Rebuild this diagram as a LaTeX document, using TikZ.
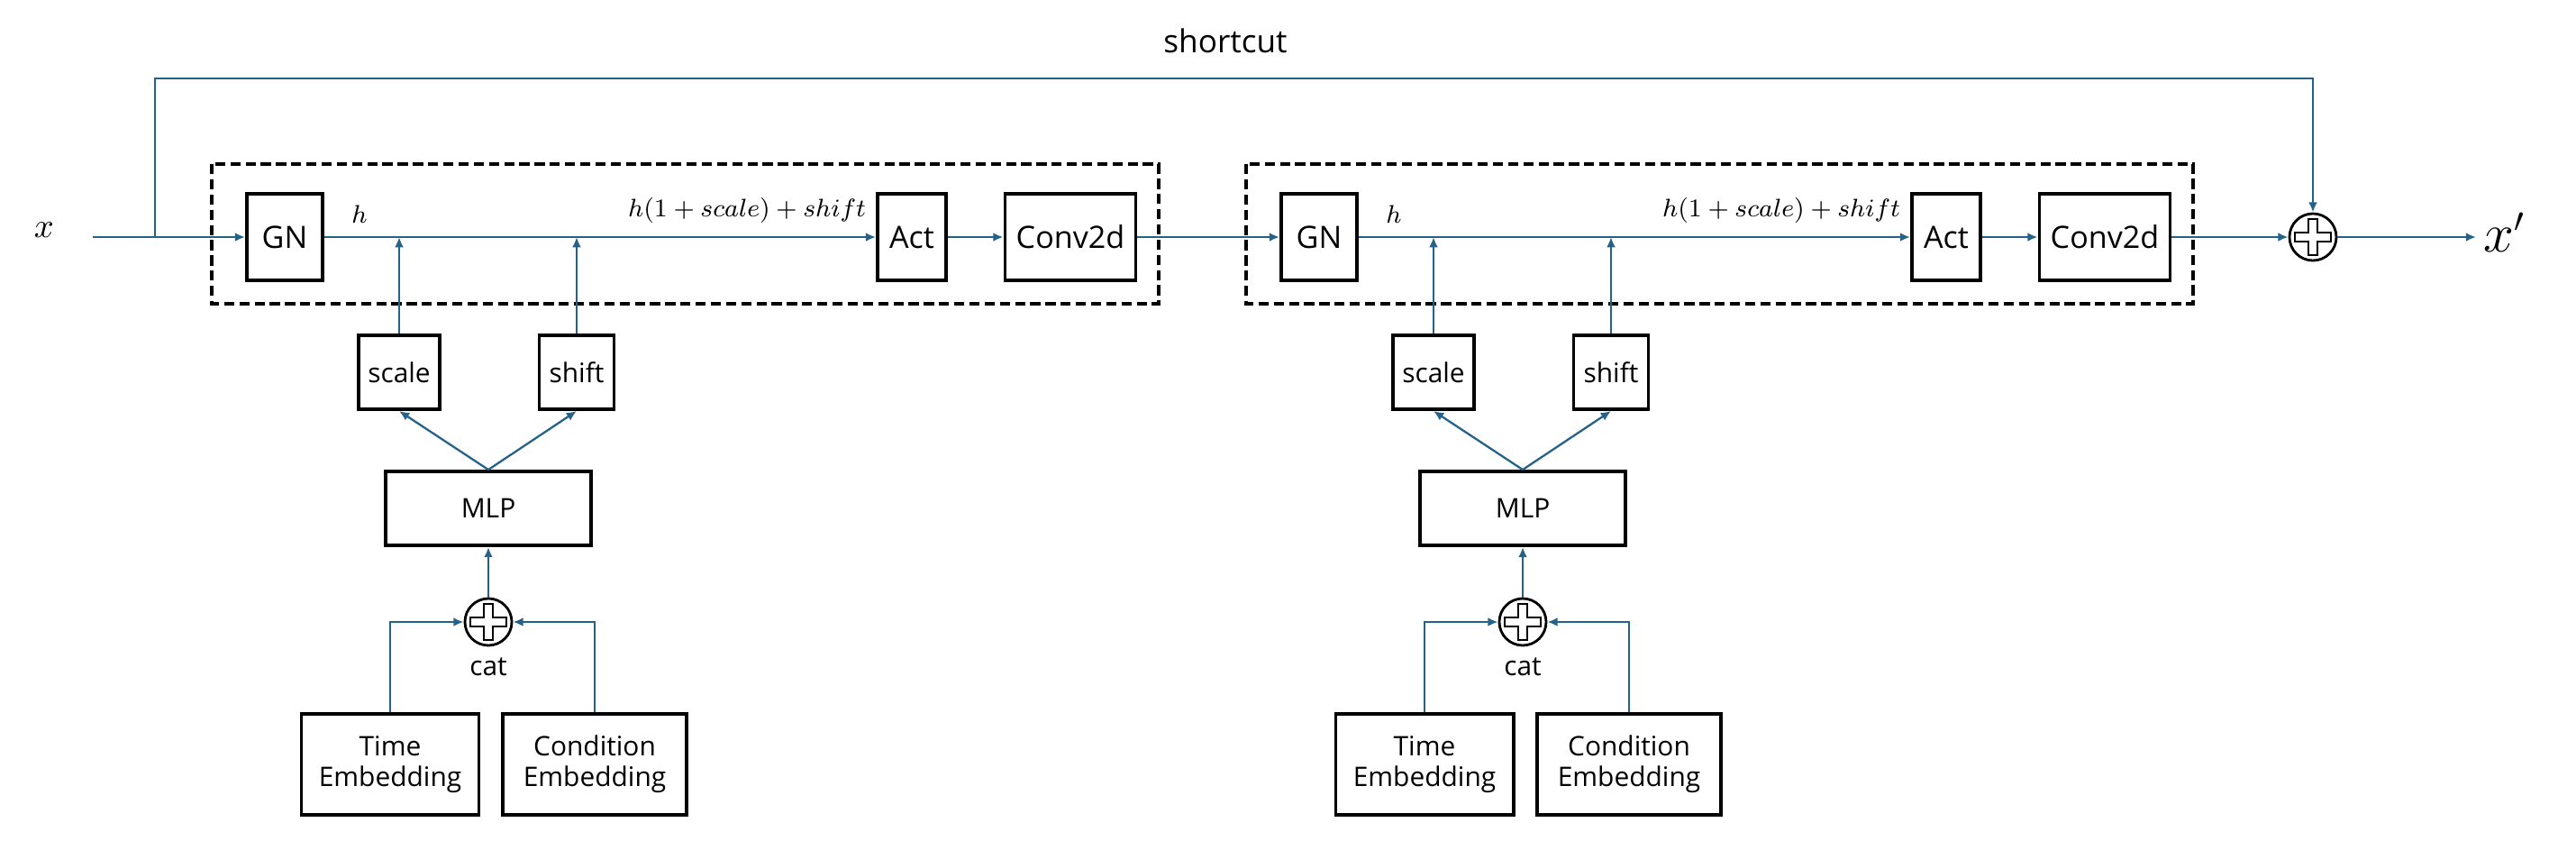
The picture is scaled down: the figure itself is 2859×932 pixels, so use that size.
\documentclass[tikz,border=0pt]{standalone}
\usepackage{fontspec}
\setmainfont{Open Sans}
\usetikzlibrary{arrows.meta,calc}
\definecolor{ln}{RGB}{36,98,138}
\newcommand{\crossat}[1]{\draw[line width=0.75pt,shift={(#1.center)}] (-5,-20) -- (5,-20) -- (5,-5) -- (20,-5) -- (20,5) -- (5,5) -- (5,20) -- (-5,20) -- (-5,5) -- (-20,5) -- (-20,-5) -- (-5,-5) -- cycle;}
\tikzset{
 box/.style={draw=black, line width=1.1pt, inner sep=0pt, font=\fontsize{8.5}{9.6}\selectfont, align=center},
 bigbox/.style={box, font=\fontsize{9.7}{11}\selectfont},
 conn/.style={draw=ln, line width=0.65pt, -{Latex[length=3.2pt,width=2.8pt]}},
 dbox/.style={draw=black, line width=1pt, dash pattern=on 3.2pt off 1.6pt},
 addc/.style={circle, draw=black, line width=0.8pt, minimum size=0.52cm, inner sep=0pt},
 lbl/.style={inner sep=0pt, font=\fontsize{8.5}{10}\selectfont},
}
\begin{document}
\begin{tikzpicture}[x=0.01cm,y=-0.01cm]
\useasboundingbox (0,0) rectangle (2859,932);
\foreach \o/\s in {0/a,1148/b}{
  \draw[dbox] ({\o+235},182) rectangle ({\o+1286},337);
  \node[bigbox, minimum width=0.84cm, minimum height=0.96cm] (GN\s) at ({\o+316},263) {GN};
  \node[bigbox, minimum width=0.76cm, minimum height=0.96cm] (Act\s) at ({\o+1012},263) {Act};
  \node[bigbox, minimum width=1.45cm, minimum height=0.96cm] (Conv\s) at ({\o+1188},263) {Conv2d};
  \node[lbl] (h\s) at ({\o+399},238) {$h$};
  \node[lbl] (f\s) at ({\o+829},233) {$h(1+scale)+shift$};
  \node[box, minimum width=0.90cm, minimum height=0.82cm] (scale\s) at ({\o+443},413) {scale};
  \node[box, minimum width=0.83cm, minimum height=0.82cm] (shift\s) at ({\o+640},413) {shift};
  \node[box, minimum width=2.28cm, minimum height=0.82cm] (MLP\s) at ({\o+542},564) {MLP};
  \node[addc] (cat\s) at ({\o+542},690) {};
  \crossat{cat\s}
  \node[lbl] (catl\s) at ({\o+542},740) {cat};
  \node[box, minimum width=1.97cm, minimum height=1.12cm] (T\s) at ({\o+433},848) {Time\\Embedding};
  \node[box, minimum width=2.04cm, minimum height=1.12cm] (C\s) at ({\o+660},848) {Condition\\Embedding};
  \draw[conn] (T\s.north) |- (cat\s.west);
  \draw[conn] (C\s.north) |- (cat\s.east);
  \draw[conn] (cat\s.north) -- (MLP\s.south);
  \draw[conn] (MLP\s.north) -- (scale\s.south);
  \draw[conn] (MLP\s.north) -- (shift\s.south);
  \draw[conn] (scale\s.north) -- (scale\s.north |- GN\s.east);
  \draw[conn] (shift\s.north) -- (shift\s.north |- GN\s.east);
  \draw[conn] (GN\s.east) -- (Act\s.west);
  \draw[conn] (Act\s.east) -- (Conv\s.west);
}
\node[addc] (out) at (2567,263) {};
\crossat{out}
\coordinate (xin) at (103,263);
\coordinate (sc) at (172,263);
\coordinate (sctop) at (172,87);
\coordinate (xend) at (2748,263);
\node[inner sep=0pt, font=\fontsize{11}{12}\selectfont] (xl) at (49,255) {$x$};
\node[inner sep=0pt, font=\fontsize{16}{18}\selectfont, anchor=west] (xo) at (2756,258) {$x'$};
\node[inner sep=0pt, font=\fontsize{10}{12}\selectfont] (scl) at (1360,45) {shortcut};
\draw[conn] (xin) -- (GNa.west);
\draw[conn] (sc) -- (sctop) -| (out.north);
\draw[conn] (Conva.east) -- (GNb.west);
\draw[conn] (Convb.east) -- (out.west);
\draw[conn] (out.east) -- (xend);
\end{tikzpicture}
\end{document}
